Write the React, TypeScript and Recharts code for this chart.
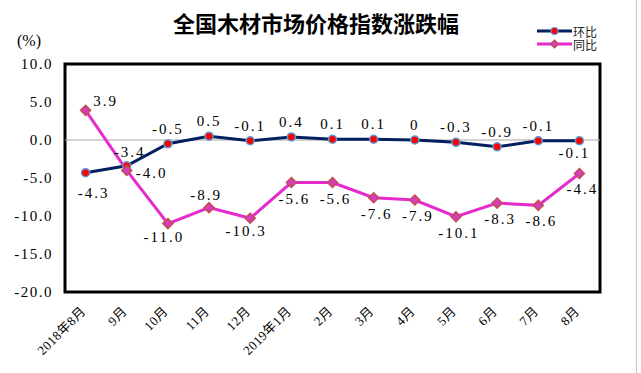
// Line chart of the national timber market price index changes (环比 / 同比)
import { LabelList, Line, LineChart, ReferenceArea, ReferenceLine, XAxis, YAxis } from "recharts";

const months = [
  "2018年8月", "9月", "10月", "11月", "12月", "2019年1月",
  "2月", "3月", "4月", "5月", "6月", "7月", "8月",
];
const huanbi = [-4.3, -3.4, -0.5, 0.5, -0.1, 0.4, 0.1, 0.1, 0, -0.3, -0.9, -0.1, -0.1];
const tongbi = [3.9, -4.0, -11.0, -8.9, -10.3, -5.6, -5.6, -7.6, -7.9, -10.1, -8.3, -8.6, -4.4];
const yTicks = [-20, -15, -10, -5, 0, 5, 10];

const data = months.map((m, i) => ({ month: m, huanbi: huanbi[i], tongbi: tongbi[i] }));

const NAVY = "#002060";
const MAGENTA = "#e62bcc";
const numFont = "'Liberation Serif', 'Noto Sans CJK SC', serif";

const fmt = (v: number) => (v === 0 ? "0" : v.toFixed(1));

// label offsets (dx, dy) from the point, by index
const huanOffset = (i: number): [number, number] => {
  if (i === 0) return [8, 20];
  if (i === 1) return [3, -14];
  if (i === 12) return [-5, 12];
  return [0, -15];
};
const tongOffset = (i: number): [number, number] => {
  if (i === 0) return [20, -9];
  if (i === 1) return [25, 3];
  if (i === 3) return [-3, -13];
  if (i === 2 || i === 4) return [-4, 13];
  return [3, 16];
};

function makeLabel(offset: (i: number) => [number, number]) {
  return function ValueLabel(props: any) {
    const { x, y, value, index } = props;
    if (x == null || y == null) return null;
    const [dx, dy] = offset(index);
    return (
      <text
        x={x + dx}
        y={y + dy}
        textAnchor="middle"
        dominantBaseline="central"
        fontSize={15}
        letterSpacing={2}
        fontFamily={numFont}
        fill="#000"
      >
        {fmt(value)}
      </text>
    );
  };
}
const HuanLabel = makeLabel(huanOffset);
const TongLabel = makeLabel(tongOffset);

function HuanDot({ cx, cy }: any) {
  if (cx == null || cy == null) return null;
  return <circle cx={cx} cy={cy} r={4} fill="#ff0000" stroke="#5b9bd5" strokeWidth={1.5} />;
}

function TongDot({ cx, cy }: any) {
  if (cx == null || cy == null) return null;
  const s = 5;
  return (
    <path
      d={`M${cx},${cy - s}L${cx + s},${cy}L${cx},${cy + s}L${cx - s},${cy}Z`}
      fill="#d63cc0"
      stroke="#c0504d"
      strokeWidth={1.5}
    />
  );
}

function MonthTick({ x, payload }: any) {
  return (
    <g transform={`translate(${x + 1},${312})`}>
      <text
        x={0}
        y={0}
        textAnchor="end"
        transform="rotate(-45)"
        fontSize={13}
        letterSpacing={0.5}
        fontFamily={numFont}
        fill="#000"
      >
        {payload.value}
      </text>
    </g>
  );
}

function ChartLegend() {
  const font = "'Noto Sans CJK SC', sans-serif";
  return (
    <svg width={70} height={30} style={{ position: "absolute", left: 535, top: 24 }}>
      <line x1={2} y1={7} x2={37} y2={7} stroke={NAVY} strokeWidth={3} />
      <circle cx={19.5} cy={7} r={3.5} fill="#ff0000" stroke="#5b9bd5" strokeWidth={1.2} />
      <text x={38} y={7} dominantBaseline="central" fontSize={12} fontFamily={font} fill="#222">
        环比
      </text>
      <line x1={2} y1={20} x2={37} y2={20} stroke={MAGENTA} strokeWidth={3} />
      <path d="M19.5,16L23.5,20L19.5,24L15.5,20Z" fill="#d63cc0" stroke="#c0504d" strokeWidth={1.2} />
      <text x={38} y={20} dominantBaseline="central" fontSize={12} fontFamily={font} fill="#222">
        同比
      </text>
    </svg>
  );
}

export default function App() {
  return (
    <div style={{ position: "absolute", left: 0, top: 0, width: 641, height: 373, background: "#fff" }}>
      <div
        style={{
          position: "absolute",
          left: 0,
          width: 632,
          top: 6,
          textAlign: "center",
          fontSize: 22,
          fontWeight: 600,
          fontFamily: "'Noto Sans CJK SC', serif",
        }}
      >
        全国木材市场价格指数涨跌幅
      </div>
      <div style={{ position: "absolute", left: 17, top: 32, fontSize: 16, fontFamily: numFont }}>(%)</div>
      <ChartLegend />
      <div style={{ position: "absolute", left: 636, top: 0, width: 1, height: 373, background: "#c8c8c8" }} />
      <LineChart width={641} height={373} data={data} margin={{ top: 64, right: 41, bottom: 0, left: 0 }}>
        <XAxis
          dataKey="month"
          scale="band"
          height={81}
          axisLine={false}
          tickLine={false}
          tick={<MonthTick />}
          interval={0}
        />
        <YAxis
          width={65}
          domain={[-20, 10]}
          ticks={yTicks}
          axisLine={false}
          tickLine={false}
          tickSize={10}
          tickFormatter={(v: number) => v.toFixed(1)}
          tick={{ fontSize: 15, fill: "#000", fontFamily: numFont, letterSpacing: 1.5 }}
        />
        <ReferenceLine y={0} stroke="#a6a6a6" strokeWidth={1} />
        <ReferenceArea y1={-20} y2={10} fill="none" stroke="#000" strokeWidth={3} />
        <Line
          dataKey="huanbi"
          stroke={NAVY}
          strokeWidth={3}
          dot={<HuanDot />}
          activeDot={false}
          isAnimationActive={false}
        >
          <LabelList dataKey="huanbi" content={<HuanLabel />} />
        </Line>
        <Line
          dataKey="tongbi"
          stroke={MAGENTA}
          strokeWidth={3}
          dot={<TongDot />}
          activeDot={false}
          isAnimationActive={false}
        >
          <LabelList dataKey="tongbi" content={<TongLabel />} />
        </Line>
      </LineChart>
    </div>
  );
}
